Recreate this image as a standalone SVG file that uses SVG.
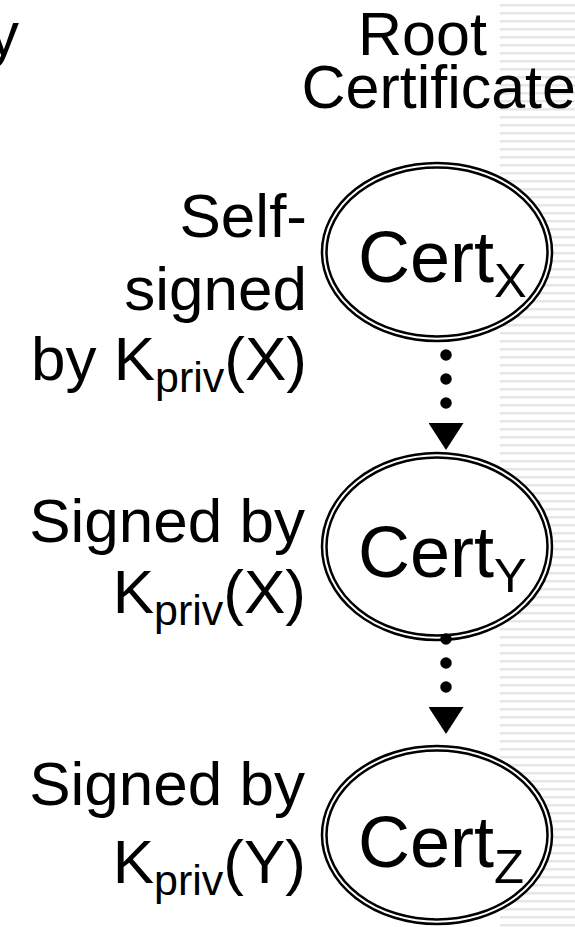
<svg xmlns="http://www.w3.org/2000/svg" width="575" height="927" viewBox="0 0 575 927">
  <defs>
    <pattern id="stripes" x="0" y="0" width="8" height="8" patternUnits="userSpaceOnUse">
      <rect x="0" y="4" width="8" height="2.5" fill="#e6e6e6"/>
    </pattern>
    <marker id="head" viewBox="0 0 27 35" refX="4" refY="17.5" markerWidth="27" markerHeight="35" markerUnits="userSpaceOnUse" orient="auto">
      <path d="M0,0 L27,17.5 L0,35 Z" fill="#000"/>
    </marker>
  </defs>
  <style>
    text { font-family: "Liberation Sans", Arial, sans-serif; fill: #000; }
    .lbl { font-size: 62px; text-anchor: end; }
    .sub { font-size: 43px; }
    .cert { font-size: 72px; }
    .csub { font-size: 49px; }
    .outer { fill: #fff; stroke: #000; stroke-width: 2.5; }
    .inner { fill: none; stroke: #000; stroke-width: 2.5; }
    .link { fill: none; stroke: #000; stroke-width: 11.5; stroke-linecap: round; stroke-dasharray: 0 24; }
  </style>

  <!-- background -->
  <rect x="0" y="0" width="575" height="927" fill="#fff"/>
  <rect x="500" y="0" width="75" height="927" fill="url(#stripes)"/>

  <!-- heading fragment and root caption -->
  <g id="heading">
    <text x="-12" y="55" style="font-size:62px">y</text>
  </g>
  <g id="root-caption">
    <text x="358" y="55" style="font-size:61px">Root</text>
    <text x="576" y="108" style="font-size:61px;text-anchor:end">Certificate</text>
  </g>

  <!-- certificates -->
  <g id="cert-x">
    <ellipse class="outer" cx="437" cy="252" rx="115" ry="89"/>
    <ellipse class="inner" cx="437" cy="252" rx="110.5" ry="84.5"/>
    <text class="cert" x="358" y="282">Cert<tspan class="csub" dy="15">X</tspan></text>
  </g>
  <g id="cert-y">
    <ellipse class="outer" cx="437" cy="546.5" rx="115" ry="93.5"/>
    <ellipse class="inner" cx="437" cy="546.5" rx="110.5" ry="89"/>
    <text class="cert" x="358" y="577">Cert<tspan class="csub" dy="15">Y</tspan></text>
  </g>
  <g id="cert-z">
    <ellipse class="outer" cx="437" cy="835" rx="115" ry="89"/>
    <ellipse class="inner" cx="437" cy="835" rx="110.5" ry="84.5"/>
    <text class="cert" x="358" y="867">Cert<tspan class="csub" dy="16">Z</tspan></text>
  </g>

  <!-- signing links -->
  <g id="connectors">
    <path class="link" d="M446,355 L446,427" marker-end="url(#head)"/>
    <path class="link" d="M446,639 L446,711" marker-end="url(#head)"/>
  </g>

  <!-- signer labels -->
  <g id="label-x">
    <text class="lbl" x="307" y="237">Self-</text>
    <text class="lbl" x="307" y="310">signed</text>
    <text class="lbl" x="307" y="380">by K<tspan class="sub" dy="12">priv</tspan><tspan dy="-12">(X)</tspan></text>
  </g>
  <g id="label-y">
    <text class="lbl" x="305" y="542">Signed by</text>
    <text class="lbl" x="306" y="613">K<tspan class="sub" dy="12">priv</tspan><tspan dy="-12">(X)</tspan></text>
  </g>
  <g id="label-z">
    <text class="lbl" x="305" y="805">Signed by</text>
    <text class="lbl" x="306" y="883">K<tspan class="sub" dy="12">priv</tspan><tspan dy="-12">(Y)</tspan></text>
  </g>
</svg>
